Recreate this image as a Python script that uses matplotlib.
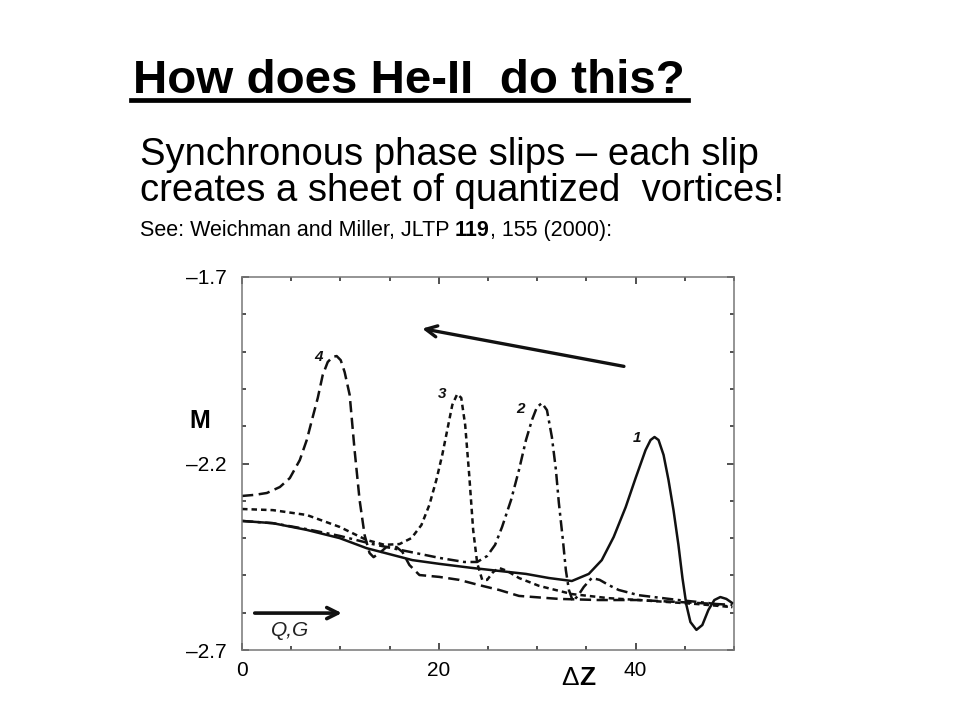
import matplotlib.pyplot as plt
from matplotlib.lines import Line2D

plt.rcParams['font.family'] = ['Liberation Sans', 'DejaVu Sans']

# curve 1 (solid)
x1 = [0, 3.14, 6.58, 9.92, 12.66, 17.32, 20.05, 23.39, 26.13, 28.86, 31.19, 33.52,
      35.24, 36.56, 37.77, 38.99, 40.0, 41.01, 41.52, 41.92, 42.33, 42.84, 43.34,
      43.85, 44.35, 44.76, 45.16, 45.57, 46.18, 46.78, 47.39, 48.0, 48.61, 49.22, 49.82]
y1 = [-2.354, -2.360, -2.378, -2.400, -2.427, -2.459, -2.469, -2.480, -2.488, -2.496,
      -2.507, -2.515, -2.496, -2.459, -2.397, -2.317, -2.239, -2.164, -2.137, -2.129,
      -2.137, -2.177, -2.244, -2.325, -2.418, -2.507, -2.579, -2.625, -2.646, -2.633,
      -2.593, -2.566, -2.558, -2.563, -2.574]

# curve 2 (dash-dot)
x2 = [0, 3.14, 6.58, 9.92, 13.27, 16.71, 20.05, 22.58, 23.9, 24.91, 25.72, 26.43,
      27.34, 28.15, 28.86, 29.47, 29.97, 30.48, 30.99, 31.49, 31.9, 32.2, 32.61,
      32.91, 33.22, 33.62, 34.13, 34.73, 35.54, 36.35, 37.27, 38.28, 40.3, 44.35,
      47.39, 49.82]
y2 = [-2.354, -2.360, -2.376, -2.394, -2.416, -2.435, -2.453, -2.464, -2.464, -2.448,
      -2.418, -2.370, -2.298, -2.217, -2.137, -2.083, -2.049, -2.038, -2.057, -2.129,
      -2.217, -2.306, -2.405, -2.486, -2.539, -2.569, -2.555, -2.531, -2.507, -2.512,
      -2.526, -2.539, -2.553, -2.566, -2.574, -2.585]

# curve 3 (short dash)
x3 = [0, 3.14, 6.58, 9.92, 12.66, 14.48, 16.0, 17.22, 18.23, 19.04, 19.75, 20.35,
      20.86, 21.37, 21.87, 22.28, 22.68, 23.09, 23.49, 23.9, 24.41, 24.91, 25.52,
      26.13, 26.94, 28.15, 30.18, 33.52, 37.27, 40.3, 46.38, 49.82]
y3 = [-2.322, -2.325, -2.338, -2.370, -2.405, -2.418, -2.416, -2.400, -2.365, -2.311,
      -2.244, -2.177, -2.110, -2.043, -2.014, -2.024, -2.097, -2.231, -2.378, -2.467,
      -2.512, -2.512, -2.491, -2.480, -2.488, -2.507, -2.528, -2.550, -2.561, -2.566,
      -2.577, -2.585]

# curve 4 (long dash)
x4 = [0, 1.32, 2.53, 3.85, 4.86, 5.87, 6.58, 7.19, 7.7, 8.2, 8.71, 9.22, 9.62,
      10.03, 10.43, 10.94, 11.44, 11.95, 12.46, 12.96, 13.37, 13.97, 14.68, 15.7,
      16.3, 17.01, 18.03, 20.05, 22.08, 24.1, 26.13, 28.15, 32.2, 36.25, 40.3,
      46.38, 49.82]
y4 = [-2.287, -2.284, -2.279, -2.263, -2.239, -2.191, -2.137, -2.075, -2.024, -1.963,
      -1.928, -1.914, -1.912, -1.923, -1.955, -2.016, -2.164, -2.298, -2.392, -2.440,
      -2.451, -2.440, -2.424, -2.424, -2.437, -2.472, -2.499, -2.504, -2.512, -2.526,
      -2.539, -2.555, -2.563, -2.566, -2.566, -2.574, -2.579]

labels = ['1', '2', '3', '4']
label_x = [40.1, 28.35, 20.35, 7.8]
label_y = [-2.132, -2.054, -2.014, -1.914]

fig = plt.figure(figsize=(9.6, 7.2), dpi=100)
ax = fig.add_axes([0.2521, 0.0972, 0.5125, 0.5181])

ink = '#111111'
lw = 1.8
ax.plot(x1, y1, color=ink, lw=lw)
ax.plot(x2, y2, color=ink, lw=lw, dashes=(4.5, 1.8, 1.2, 1.8))
ax.plot(x3, y3, color=ink, lw=lw, dashes=(2.2, 1.6))
ax.plot(x4, y4, color=ink, lw=lw, dashes=(4.5, 2.2))

for t, lx, ly in zip(labels, label_x, label_y):
    ax.text(lx, ly, t, fontsize=11, fontweight='bold', style='italic',
            ha='center', va='center', color=ink)

# arrows
ax.annotate('', xy=(18.03, -1.837), xytext=(39.09, -1.941),
            arrowprops=dict(arrowstyle='->', color=ink, lw=2.4,
                            mutation_scale=20))
ax.annotate('', xy=(10.43, -2.601), xytext=(1.01, -2.601),
            arrowprops=dict(arrowstyle='->', color=ink, lw=2.6,
                            mutation_scale=20))
ax.text(4.86, -2.649, 'Q,G', fontsize=15, style='italic', ha='center',
        va='center', color='#222222')

ax.set_xlim(0, 50)
ax.set_ylim(-2.7, -1.7)
ax.set_xticks([0, 20, 40])
ax.set_xticks(range(0, 51, 5), minor=True)
ax.set_yticks([-2.7, -2.2, -1.7])
ax.set_yticklabels(['\u20132.7', '\u20132.2', '\u20131.7'])
ax.set_yticks([-2.7 + 0.1 * i for i in range(11)], minor=True)
ax.tick_params(which='both', direction='in', top=True, right=True,
               color='#333333', width=1.2, labelsize=15)
ax.tick_params(axis='y', which='major', pad=11)
ax.tick_params(axis='x', which='major', pad=8)
ax.tick_params(which='major', length=5)
ax.tick_params(which='minor', length=3)
for s in ax.spines.values():
    s.set_color('#777777')
    s.set_linewidth(1.1)

fig.text(200 / 960, 1 - 421 / 720, 'M', fontsize=18, fontweight='bold',
         ha='center', va='center')
fig.text(579 / 960, 1 - 678 / 720, '\u0394', fontsize=19, ha='right', va='center')
fig.text(579 / 960, 1 - 678 / 720, 'Z', fontsize=19, fontweight='bold',
         ha='left', va='center')

# slide text
fig.text(133 / 960, 1 - 93 / 720, 'How does He-II  do this?', fontsize=34.2,
         fontweight='bold', ha='left', va='baseline')
fig.add_artist(Line2D([131 / 960, 688 / 960], [1 - 99.5 / 720, 1 - 99.5 / 720],
                      color='black', lw=3.4))
fig.text(140 / 960, 1 - 165 / 720, 'Synchronous phase slips \u2013 each slip',
         fontsize=27.5, ha='left', va='baseline')
fig.text(140 / 960, 1 - 201 / 720, 'creates a sheet of quantized  vortices!',
         fontsize=27.5, ha='left', va='baseline')
see = fig.text(140 / 960, 1 - 236 / 720, 'See: Weichman and Miller, JLTP ',
               fontsize=15.5, ha='left', va='baseline')
fig.canvas.draw()
x0 = see.get_window_extent().x1 / 960
b = fig.text(x0, 1 - 236 / 720, '119', fontsize=15.5, fontweight='bold',
             ha='left', va='baseline')
fig.canvas.draw()
x0 = b.get_window_extent().x1 / 960
fig.text(x0, 1 - 236 / 720, ', 155 (2000):', fontsize=15.5, ha='left',
         va='baseline')

fig.savefig('out.png')
